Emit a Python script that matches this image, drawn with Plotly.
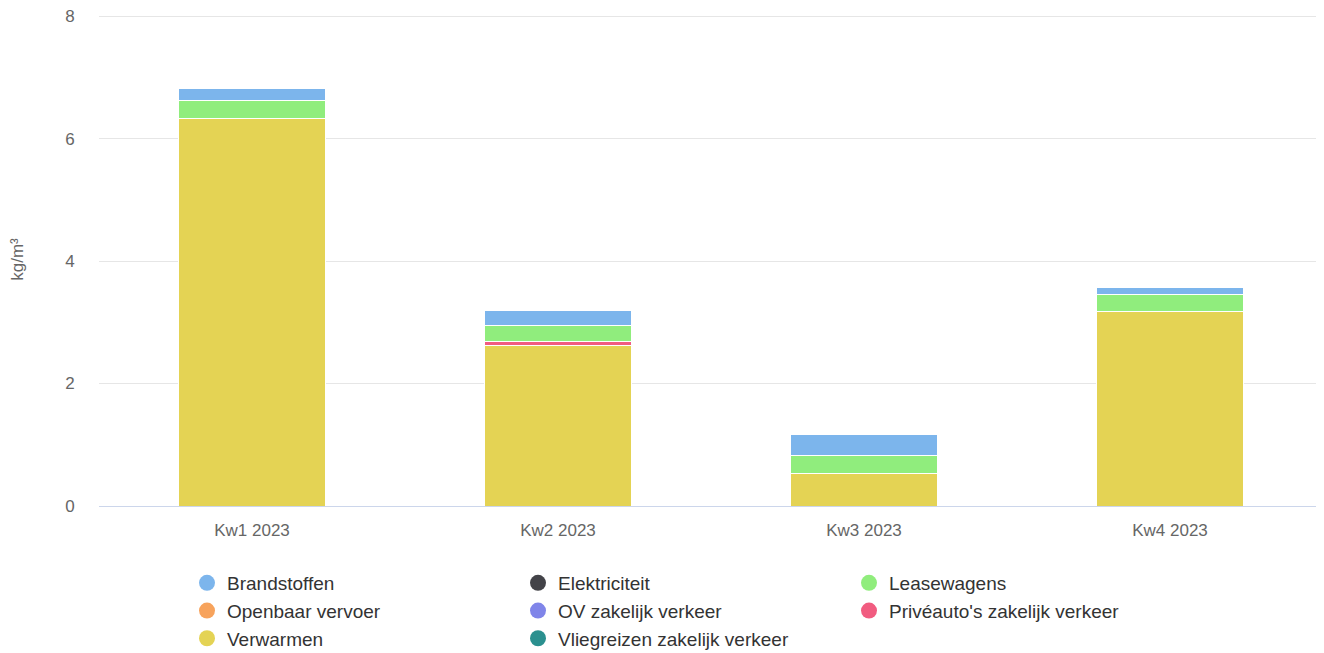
import plotly.graph_objects as go

categories = ["Kw1 2023", "Kw2 2023", "Kw3 2023", "Kw4 2023"]

series_names = [
    "Brandstoffen",
    "Elektriciteit",
    "Leasewagens",
    "Openbaar vervoer",
    "OV zakelijk verkeer",
    "Privéauto's zakelijk verkeer",
    "Verwarmen",
    "Vliegreizen zakelijk verkeer",
]
series_colors = [
    "#7cb5ec", "#434348", "#90ed7d", "#f7a35c",
    "#8085e9", "#f15c80", "#e4d354", "#2b908f",
]

brandstoffen = [0.20, 0.24, 0.33, 0.125]
elektriciteit = [0, 0, 0, 0]
leasewagens = [0.30, 0.26, 0.30, 0.28]
openbaar_vervoer = [0, 0, 0, 0]
ov_zakelijk = [0, 0, 0, 0]
priveauto = [0, 0.075, 0, 0]
verwarmen = [6.32, 2.615, 0.53, 3.17]
vliegreizen = [0, 0, 0, 0]

series_values = [
    brandstoffen, elektriciteit, leasewagens, openbaar_vervoer,
    ov_zakelijk, priveauto, verwarmen, vliegreizen,
]

y_ticks = [0, 2, 4, 6, 8]
y_range = [0, 8.05]
y_title = "kg/m³"

FONT = "Liberation Sans, Arial, sans-serif"

# page body has an 8px margin, so the figure is sized to fit the window after it
W, H = 1316, 645

fig = go.Figure()

# Highcharts stacks the first series on top; Plotly stacks first trace at bottom
for name, color, vals in reversed(list(zip(series_names, series_colors, series_values))):
    fig.add_trace(go.Bar(
        x=categories, y=vals, name=name, legendgroup=name, showlegend=False,
        marker=dict(color=color, line=dict(color="#ffffff", width=1)),
    ))

# Legend entries with circle symbols
for name, color in reversed(list(zip(series_names, series_colors))):
    fig.add_trace(go.Scatter(
        x=[None], y=[None], mode="markers", name=name, legendgroup=name,
        marker=dict(color=color, size=18, symbol="circle"),
        showlegend=True,
    ))

fig.update_layout(
    width=W, height=H,
    barmode="stack",
    bargap=0.521,
    plot_bgcolor="#ffffff",
    paper_bgcolor="#ffffff",
    margin=dict(l=91, r=1, t=5, b=147, autoexpand=False),
    font=dict(family=FONT, color="#666666", size=17),
    showlegend=True,
    legend=dict(
        orientation="h",
        traceorder="reversed",
        xref="container", yref="container",
        x=179 / W, y=1 - 556 / H,
        xanchor="left", yanchor="top",
        entrywidth=286, entrywidthmode="pixels",
        font=dict(family=FONT, size=19, color="#333333"),
        itemsizing="trace",
        tracegroupgap=0,
        bgcolor="rgba(0,0,0,0)",
    ),
    xaxis=dict(
        showgrid=False,
        showline=True, linecolor="#ccd6eb", linewidth=1,
        ticks="outside", ticklen=9, tickcolor="rgba(0,0,0,0)",
        tickfont=dict(size=17, color="#666666"),
        automargin=False,
        fixedrange=True,
    ),
    yaxis=dict(
        range=y_range,
        tickvals=y_ticks,
        showgrid=True, gridcolor="#e6e6e6", gridwidth=1,
        zeroline=False, showline=False,
        ticks="outside", ticklen=20, tickcolor="rgba(0,0,0,0)",
        tickfont=dict(size=17, color="#666666"),
        ticklabeloverflow="allow",
        title=dict(text=y_title, font=dict(size=17, color="#666666"), standoff=45),
        automargin=False,
        fixedrange=True,
    ),
)

fig.write_html("out.html")
